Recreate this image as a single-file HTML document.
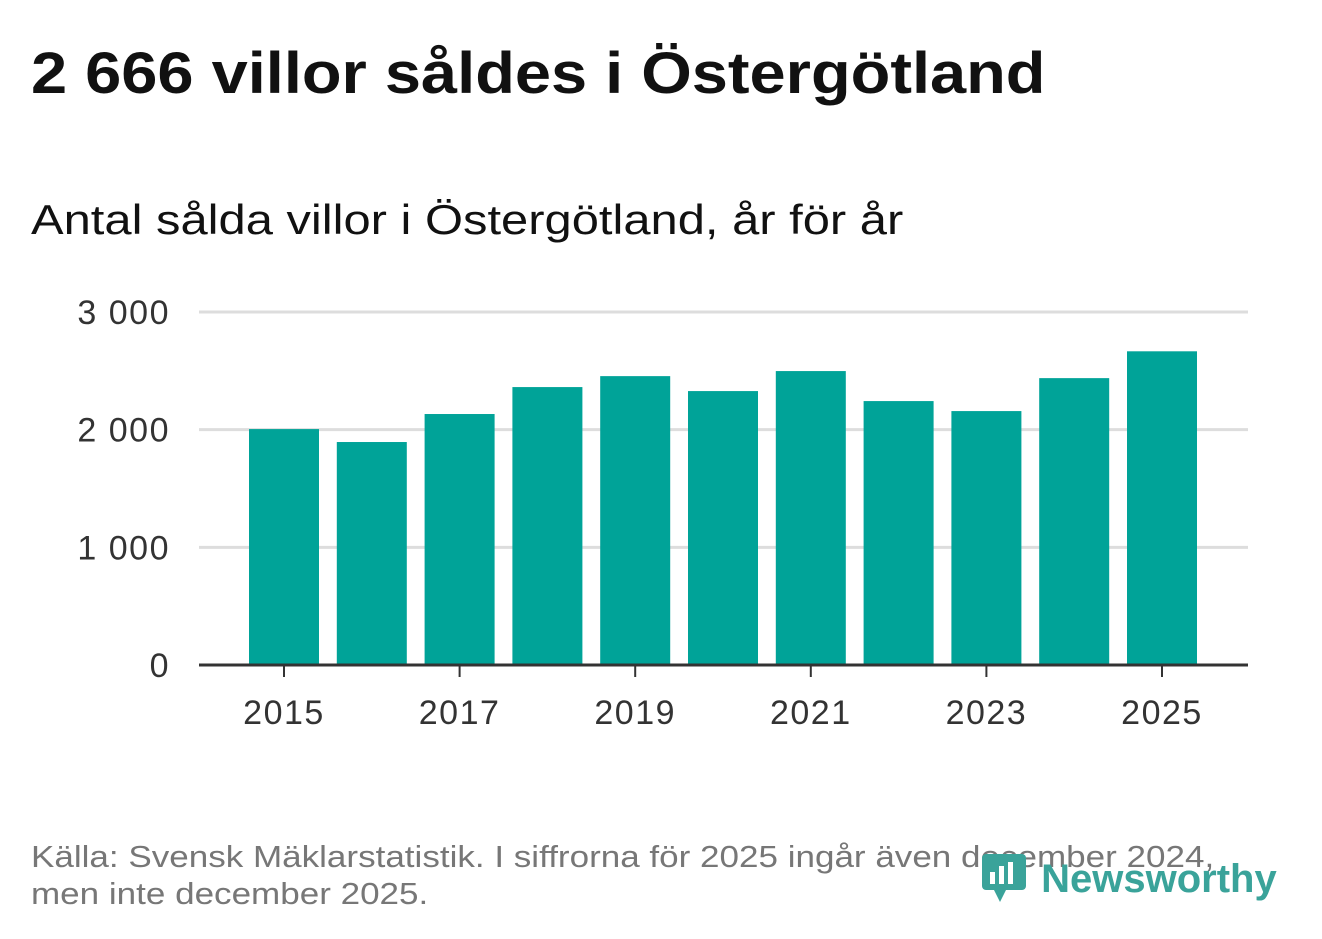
<!DOCTYPE html>
<html><head><meta charset="utf-8"><style>
body{margin:0;width:1322px;height:939px;background:#fff;font-family:"Liberation Sans",sans-serif;overflow:hidden;position:relative}
h1{position:absolute;left:31px;top:40px;margin:0;font-size:58px;font-weight:bold;color:#111;transform:scaleX(1.12);transform-origin:0 0;white-space:nowrap}
.sub{position:absolute;left:31px;top:196px;font-size:42px;color:#111;transform:scaleX(1.164);transform-origin:0 0;white-space:nowrap}
.src{position:absolute;left:31px;top:838px;font-size:31px;color:#777;line-height:37px;transform:scaleX(1.13);transform-origin:0 0;white-space:nowrap}
.logo{position:absolute;left:980px;top:850px;font-size:40px;font-weight:bold;color:#3aa39a;white-space:nowrap}
</style></head><body>
<h1>2 666 villor såldes i Östergötland</h1>
<div class="sub">Antal sålda villor i Östergötland, år för år</div>
<svg id="c" width="1322" height="939" style="position:absolute;left:0;top:0"></svg>
<div class="src">Källa: Svensk Mäklarstatistik. I siffrorna för 2025 ingår även december 2024,<br>men inte december 2025.</div>
<div class="logo"><svg width="50" height="52" viewBox="0 0 50 52" style="vertical-align:-10px"><rect x="2" y="4" width="44" height="36" rx="4" fill="#3aa39a"/><polygon points="14,40 26,40 20,52" fill="#3aa39a"/><rect x="10" y="22" width="5" height="12" fill="#fff"/><rect x="19" y="16" width="5" height="18" fill="#fff"/><rect x="28" y="12" width="5" height="22" fill="#fff"/></svg> Newsworthy</div>
<script>
const years=[2015,2016,2017,2018,2019,2020,2021,2022,2023,2024,2025];
const values=[2005,1895,2133,2362,2455,2328,2498,2243,2158,2438,2666];
const yTicks=[0,1000,2000,3000];
const yTickLabels=["0","1 000","2 000","3 000"];
const xTickYears=[2015,2017,2019,2021,2023,2025];
const svg=document.getElementById('c');const NS='http://www.w3.org/2000/svg';
const y0=665,y1=312,ymax=3000;
const y=v=>y0-(y0-y1)*v/ymax;
const x=yr=>284+(yr-2015)*87.8;
function el(t,a){const e=document.createElementNS(NS,t);for(const k in a)e.setAttribute(k,a[k]);svg.appendChild(e);return e;}
yTicks.forEach((t,i)=>{
 if(t>0){const g=el('line',{x1:199,x2:1248,y1:y(t),y2:y(t),stroke:'#ddd','stroke-width':3});
 
 }
 const l=el('text',{x:170,y:y(t)+12,'text-anchor':'end','font-size':34,'letter-spacing':1.5,fill:'#333','font-family':'Liberation Sans, sans-serif'});
 l.textContent=yTickLabels[i];
 
 
});
years.forEach((yr,i)=>{
 const b=el('rect',{x:x(yr)-35,y:y(values[i]),width:70,height:y0-y(values[i]),fill:'#00a398'});
 
 
});
const ax=el('line',{x1:199,x2:1248,y1:y0,y2:y0,stroke:'#333','stroke-width':3});


xTickYears.forEach(yr=>{
 const tk=el('line',{x1:x(yr),x2:x(yr),y1:y0,y2:y0+12,stroke:'#333','stroke-width':2});
 
 
 const t=el('text',{x:x(yr),y:724,'text-anchor':'middle','font-size':34,'letter-spacing':1.5,fill:'#333','font-family':'Liberation Sans, sans-serif'});
 t.textContent=yr;
 
 
});
</script>
</body></html>
